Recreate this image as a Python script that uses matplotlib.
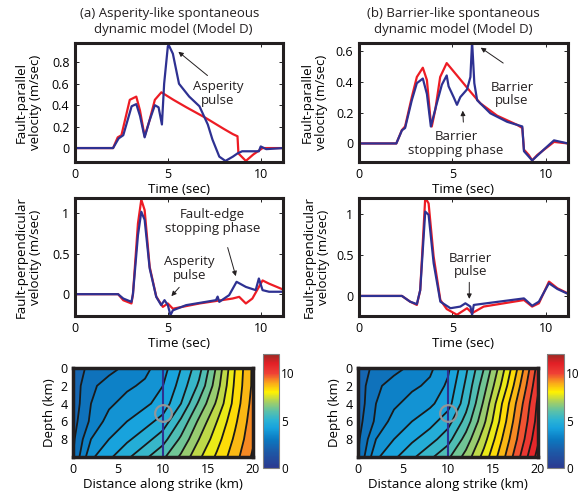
import matplotlib
matplotlib.use('Agg')
import matplotlib.pyplot as plt
import numpy as np
from matplotlib.colors import LinearSegmentedColormap, Normalize
from matplotlib.cm import ScalarMappable

plt.rcParams['font.family'] = ['Open Sans', 'DejaVu Sans']
plt.rcParams['font.size'] = 9
plt.rcParams['text.color'] = '#231f20'
plt.rcParams['axes.labelsize'] = 9.5

RED = '#ed1c24'
BLUE = '#2e3192'

# --- fault-parallel velocity, asperity model (a)
t_par_a_red = [0, 2.05, 2.3, 2.5, 2.95, 3.3, 3.5, 3.75, 4.0, 4.3, 4.65, 5.3, 6.0, 7.05, 8.0, 8.5, 8.75, 8.8, 9.2, 9.6, 10.1, 11.2]
v_par_a_red = [0, 0, 0.1, 0.12, 0.45, 0.48, 0.35, 0.11, 0.25, 0.45, 0.52, 0.45, 0.38, 0.28, 0.18, 0.13, 0.11, -0.05, -0.12, -0.06, 0.0, 0.0]
t_par_a_blue = [0, 2.05, 2.35, 2.6, 3.05, 3.3, 3.5, 3.75, 4.0, 4.3, 4.5, 4.68, 4.8, 5.0, 5.05, 5.27, 5.6, 6.15, 6.7, 7.15, 7.4, 7.77, 8.1, 8.5, 8.75, 9.0, 9.9, 10.0, 10.3, 11.2]
v_par_a_blue = [0, 0, 0.09, 0.12, 0.39, 0.41, 0.3, 0.10, 0.25, 0.40, 0.38, 0.22, 0.6, 0.95, 0.96, 0.88, 0.6, 0.48, 0.39, 0.22, 0.08, -0.08, -0.12, -0.08, -0.05, -0.03, -0.03, 0.015, -0.01, 0.0]

# --- fault-parallel velocity, barrier model (b)
t_par_b_red = [0, 2.0, 2.3, 2.47, 2.83, 3.1, 3.42, 3.64, 3.82, 3.9, 4.09, 4.35, 4.7, 5.25, 5.97, 6.5, 7.4, 8.48, 8.75, 8.84, 9.1, 9.28, 9.55, 10.45, 11.2]
v_par_b_red = [0, 0, 0.087, 0.11, 0.30, 0.43, 0.49, 0.41, 0.17, 0.11, 0.22, 0.43, 0.52, 0.44, 0.335, 0.26, 0.18, 0.12, 0.10, -0.04, -0.075, -0.11, -0.075, 0.01, 0.0]
t_par_b_blue = [0, 2.0, 2.3, 2.47, 2.83, 3.1, 3.42, 3.64, 3.85, 4.17, 4.44, 4.7, 4.8, 5.07, 5.25, 5.43, 5.79, 5.97, 6.06, 6.18, 6.33, 7.04, 7.94, 8.75, 8.84, 9.28, 9.9, 10.45, 11.2]
v_par_b_blue = [0, 0, 0.085, 0.10, 0.28, 0.39, 0.42, 0.32, 0.11, 0.26, 0.38, 0.44, 0.37, 0.30, 0.25, 0.30, 0.35, 0.43, 0.66, 0.39, 0.28, 0.195, 0.14, 0.11, -0.05, -0.11, -0.04, 0.02, 0.0]

# --- fault-perpendicular velocity, asperity model (a)
t_per_a_red = [0, 2.32, 2.6, 3.04, 3.12, 3.39, 3.57, 3.75, 4.02, 4.375, 4.73, 5.0, 5.27, 6.7, 8.48, 8.84, 9.2, 9.55, 10.1, 10.45, 11.2]
v_per_a_red = [0, 0, -0.075, -0.115, 0.0, 0.876, 1.17, 1.04, 0.34, -0.03, -0.157, -0.115, -0.18, -0.115, -0.054, -0.033, -0.115, -0.054, 0.17, 0.13, 0.058]
t_per_a_blue = [0, 2.32, 2.6, 3.04, 3.12, 3.39, 3.57, 3.75, 4.02, 4.375, 4.64, 4.82, 5.0, 5.14, 5.27, 5.98, 7.59, 7.68, 7.77, 8.3, 8.7, 9.2, 9.73, 9.9, 10.1, 10.45, 11.2]
v_per_a_blue = [0, 0, -0.054, -0.095, 0.0, 0.73, 1.02, 0.92, 0.32, -0.033, -0.136, -0.074, -0.136, -0.26, -0.2, -0.136, -0.074, -0.03, -0.095, -0.012, 0.153, 0.09, 0.05, 0.194, 0.05, 0.03, 0.03]

# --- fault-perpendicular velocity, barrier model (b)
t_per_b_red = [0, 2.3, 2.74, 3.1, 3.28, 3.55, 3.73, 4.0, 4.36, 4.7, 5.25, 5.79, 6.06, 6.68, 8.84, 9.28, 9.64, 10.18, 10.63, 11.2]
v_per_b_red = [0, 0, -0.07, -0.11, 0.07, 1.2, 1.13, 0.48, -0.05, -0.16, -0.23, -0.15, -0.21, -0.13, -0.05, -0.13, -0.09, 0.175, 0.094, 0.03]
t_per_b_blue = [0, 2.3, 2.74, 3.1, 3.28, 3.55, 3.73, 4.0, 4.36, 4.9, 5.43, 5.7, 5.97, 6.06, 6.15, 8.84, 9.28, 9.64, 10.18, 10.63, 11.2]
v_per_b_blue = [0, 0, -0.07, -0.1, 0.07, 1.03, 0.99, 0.4, -0.07, -0.15, -0.13, -0.09, -0.13, -0.23, -0.11, -0.03, -0.12, -0.07, 0.155, 0.085, 0.025]

# --- rupture time (s) on the fault, rows = depth, cols = distance along strike
dist_km = [0, 2, 4, 6, 8, 10, 12, 14, 16, 18, 20]
depth_km = [0, 2, 4, 6, 8, 10]
rupt_a = [
    [2.3, 2.6, 2.85, 3.1, 3.35, 3.8, 4.5, 5.3, 6.6, 8.0, 9.1],
    [2.2, 2.9, 3.2, 3.4, 3.6, 4.0, 4.7, 5.6, 6.8, 8.1, 9.1],
    [2.2, 3.0, 3.4, 3.7, 3.9, 4.2, 5.0, 6.1, 7.1, 8.2, 9.2],
    [2.3, 3.1, 3.7, 4.0, 4.3, 4.7, 5.6, 6.6, 7.5, 8.4, 9.3],
    [2.4, 3.5, 4.0, 4.4, 4.8, 5.3, 6.1, 7.0, 7.8, 8.6, 9.4],
    [2.5, 3.9, 4.4, 4.9, 5.4, 5.9, 6.6, 7.4, 8.1, 8.8, 9.6],
]
rupt_b = [
    [2.3, 2.6, 2.85, 3.1, 3.4, 3.9, 4.9, 6.0, 7.3, 8.7, 10.2],
    [2.2, 2.9, 3.2, 3.4, 3.6, 4.1, 5.1, 6.3, 7.6, 9.0, 10.4],
    [2.2, 3.0, 3.4, 3.7, 3.9, 4.3, 5.3, 6.6, 8.0, 9.3, 10.6],
    [2.3, 3.1, 3.7, 4.0, 4.3, 4.8, 5.7, 6.9, 8.2, 9.5, 10.7],
    [2.4, 3.5, 4.0, 4.4, 4.8, 5.3, 6.2, 7.3, 8.5, 9.7, 10.9],
    [2.5, 3.9, 4.4, 4.9, 5.4, 5.9, 6.7, 7.7, 8.8, 10.0, 11.2],
]
station_x = 10
station_depth = 5

cmap = LinearSegmentedColormap.from_list('soft_jet', [
    (0.0, '#2b3990'), (0.15, '#1c5ba8'), (0.25, '#0b79c1'), (0.35, '#17a2dd'),
    (0.42, '#2bb3d4'), (0.5, '#5cc1a8'), (0.58, '#a6cf63'), (0.667, '#fff200'),
    (0.75, '#f9a51b'), (0.83, '#ef4136'), (0.92, '#e21f26'), (1.0, '#9b2b24')])
norm = Normalize(0, 12)

fig = plt.figure(figsize=(5.79, 4.98), dpi=100)
W, H = 579, 498


def add_ax(l, t, r, b):
    return fig.add_axes([l / W, 1 - b / H, (r - l) / W, (b - t) / H])


def style(ax, lw=2.2):
    for s in ax.spines.values():
        s.set_linewidth(lw)
        s.set_color('#231f20')
    ax.tick_params(direction='in', top=True, right=True, length=3, width=0.6, pad=4)


def wave(ax, tr, vr, tb, vb, ylim, yticks, yt_labels, ylabel, lab_x):
    ax.plot(tr, vr, color=RED, lw=1.6)
    ax.plot(tb, vb, color=BLUE, lw=1.6)
    ax.set_xlim(0, 11.2)
    ax.set_ylim(*ylim)
    ax.set_xticks([0, 5, 10])
    ax.set_yticks(yticks)
    ax.set_yticklabels(yt_labels)
    ax.set_xlabel('Time (sec)', labelpad=2)
    ax.set_ylabel(ylabel, linespacing=1.05)
    ax.yaxis.set_label_coords(lab_x, 0.5)
    style(ax)


def note(ax, text, xy, xytext, arrow_from):
    ax.text(*xytext, text, ha='center', va='center', linespacing=1.05, fontsize=9.5)
    ax.annotate('', xy=xy, xytext=arrow_from,
                arrowprops=dict(arrowstyle='-|>', color='#231f20', lw=0.7, mutation_scale=7))


ax1 = add_ax(75, 43, 283, 162)
wave(ax1, t_par_a_red, v_par_a_red, t_par_a_blue, v_par_a_blue, (-0.13, 0.98),
     [0, 0.2, 0.4, 0.6, 0.8], ['0', '0.2', '0.4', '0.6', '0.8'],
     'Fault-parallel\nvelocity (m/sec)', -0.16)
note(ax1, 'Asperity\npulse', (5.45, 0.915), (7.7, 0.51), (7.25, 0.66))

ax2 = add_ax(359, 43, 568, 162)
wave(ax2, t_par_b_red, v_par_b_red, t_par_b_blue, v_par_b_blue, (-0.12, 0.65),
     [0, 0.2, 0.4, 0.6], ['0', '0.2', '0.4', '0.6'],
     'Fault-parallel\nvelocity (m/sec)', -0.15)
note(ax2, 'Barrier\npulse', (6.4, 0.63), (8.2, 0.32), (7.85, 0.51))
note(ax2, 'Barrier\nstopping phase', (5.55, 0.23), (5.2, 0.0), (5.6, 0.12))

ax3 = add_ax(75, 198, 283, 316)
wave(ax3, t_per_a_red, v_per_a_red, t_per_a_blue, v_per_a_blue, (-0.27, 1.19),
     [0, 0.5, 1], ['0', '0.5', '1'],
     'Fault-perpendicular\nvelocity (m/sec)', -0.16)
note(ax3, 'Fault-edge\nstopping phase', (8.7, 0.19), (7.4, 0.9), (8.18, 0.61))
note(ax3, 'Asperity\npulse', (5.09, -0.05), (6.16, 0.32), (5.71, 0.11))

ax4 = add_ax(359, 198, 568, 316)
wave(ax4, t_per_b_red, v_per_b_red, t_per_b_blue, v_per_b_blue, (-0.245, 1.196),
     [0, 0.5, 1], ['0', '0.5', '1'],
     'Fault-perpendicular\nvelocity (m/sec)', -0.14)
note(ax4, 'Barrier\npulse', (5.91, -0.07), (5.97, 0.38), (5.91, 0.2))

levels = np.arange(0, 12.5, 0.5)
for (l, r), cb_lr, rupt in [((73, 253), (263, 279), rupt_a), ((358, 538), (547, 564), rupt_b)]:
    ax = add_ax(l, 368, r, 457)
    ax.contourf(dist_km, depth_km, rupt, levels=levels, cmap=cmap, norm=norm)
    ax.contour(dist_km, depth_km, rupt, levels=levels, colors='#1a1a1a', linewidths=1.3)
    ax.axvline(station_x, color=BLUE, lw=1.5)
    ax.plot([station_x], [station_depth], 'o', ms=12, mfc='none', mec='#939598', mew=1.6)
    ax.set_xlim(0, 20)
    ax.set_ylim(10, 0)
    ax.set_xticks([0, 5, 10, 15, 20])
    ax.set_yticks([0, 2, 4, 6, 8])
    ax.set_xlabel('Distance along strike (km)', labelpad=2)
    ax.set_ylabel('Depth (km)', labelpad=3)
    style(ax, 2.5)
    ax.tick_params(length=0)
    cax = add_ax(cb_lr[0], 354, cb_lr[1], 468)
    cb = fig.colorbar(ScalarMappable(norm=norm, cmap=cmap), cax=cax, ticks=[0, 5, 10])
    cb.outline.set_edgecolor('#808080')
    cb.outline.set_linewidth(0.8)
    cax.tick_params(length=0, pad=1.5, labelsize=8.5)

fig.text(170 / W, 1 - 13 / H, '(a) Asperity-like spontaneous', ha='center', va='center', fontsize=9.5)
fig.text(173 / W, 1 - 29 / H, 'dynamic model (Model D)', ha='center', va='center', fontsize=9.5)
fig.text(453 / W, 1 - 13 / H, '(b) Barrier-like spontaneous', ha='center', va='center', fontsize=9.5)
fig.text(453 / W, 1 - 29 / H, 'dynamic model (Model D)', ha='center', va='center', fontsize=9.5)

fig.savefig('out.png', dpi=100)
